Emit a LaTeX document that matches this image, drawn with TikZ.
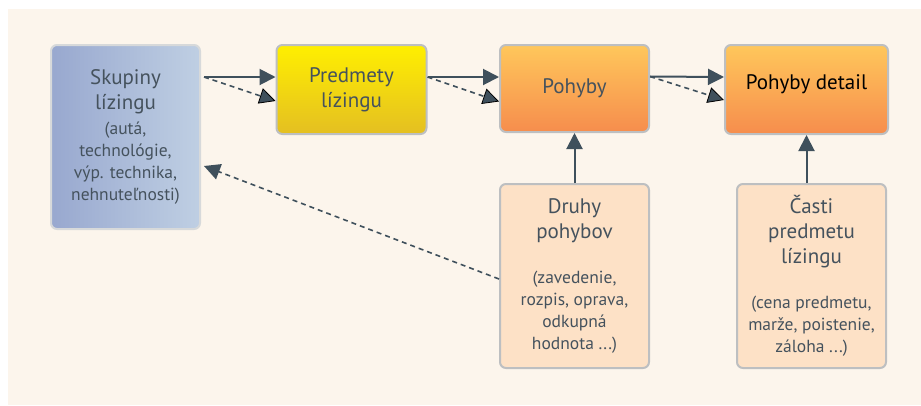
\documentclass[tikz,border=0pt]{standalone}
\usepackage{fontspec}
\setmainfont{PT Sans}
\usepackage{xcolor}
\usepackage{tikz}
\usetikzlibrary{arrows.meta}
\definecolor{bgcream}{HTML}{FCF5EC}
\definecolor{arrowgray}{HTML}{3F505C}
\definecolor{textgray}{HTML}{45525D}
\definecolor{framegray}{HTML}{BDBFC1}
\definecolor{blueleft}{HTML}{98A8CF}
\definecolor{blueright}{HTML}{BFCFE3}
\definecolor{yellowtop}{HTML}{FFEF00}
\definecolor{yellowbot}{HTML}{E4BF22}
\definecolor{orangetop}{HTML}{FFC75B}
\definecolor{orangebot}{HTML}{F68D4D}
\definecolor{peach}{HTML}{FDE1C6}
\newcommand{\smalltext}{\fontsize{17.5}{22}\selectfont}

\begin{document}
\begin{tikzpicture}[x=1pt ,y=-1pt ,semithick ,box/.style ={ rectangle ,rounded corners =6pt ,draw =framegray ,line width =2pt ,text =textgray ,align =center ,inner sep =0pt ,font =\fontsize{21}{25}\selectfont} ,flow/.style ={ -{Triangle[length=16pt,width=16pt]} ,arrowgray ,line width =2pt} ,dflow/.style ={ -{Triangle[length=16pt,width=16pt,color=black,fill=arrowgray,line width=0.8pt]} ,arrowgray ,line width =1.6pt ,dash pattern =on 5pt off 4pt} ,lflow/.style ={ -{Triangle[length=16pt,width=16pt]} ,arrowgray ,line width =1.6pt ,dash pattern =on 5pt off 4pt}]
\useasboundingbox (0,0) rectangle (921,405);
\fill[bgcream] (8,9) rectangle (921,405);
\node[box ,left color =blueleft ,right color =blueright ,draw =framegray!60 ,minimum width =149pt ,minimum height =184pt] (sk) at (125.5,137) {Skupiny\\lízingu\\\smalltext(autá,\\[-3pt]\smalltext technológie,\\[-3pt]\smalltext výp. technika,\\[-3pt]\smalltext nehnuteľnosti)};
\node[box ,top color =yellowtop ,bottom color =yellowbot ,minimum width =150pt ,minimum height =89pt] (pr) at (351.5,89.5) {Predmety\\lízingu};
\node[box ,top color =orangetop ,bottom color =orangebot ,minimum width =149pt ,minimum height =87pt] (ph) at (574.5,88.5) {Pohyby};
\node[box ,top color =orangetop ,bottom color =orangebot ,text =black ,text depth =14pt ,minimum width =163pt ,minimum height =89pt] (dt) at (806.5,89.5) {Pohyby detail};
\node[box ,fill =peach ,minimum width =149pt ,minimum height =184pt] (dr) at (574.5,276) {Druhy\\pohybov\\[20pt]\smalltext(zavedenie,\\[-3pt]\smalltext rozpis, oprava,\\[-3pt]\smalltext odkupná\\[-3pt]\smalltext hodnota ...)};
\node[box ,fill =peach ,minimum width =149pt ,minimum height =184pt] (ca) at (811.5,276) {Časti\\predmetu\\lízingu\\[20pt]\smalltext(cena predmetu,\\[-3pt]\smalltext marže, poistenie,\\[-3pt]\smalltext záloha ...)};
\draw[flow] ([xshift=3pt,yshift=60pt]sk.east) -- ([yshift=12.5pt]pr.west);
\draw[dflow] ([xshift=3pt,yshift=60pt]sk.east) -- ([yshift=-11.5pt]pr.west);
\draw[flow] ([yshift=12.5pt]pr.east) -- ([yshift=11.5pt]ph.west);
\draw[dflow] ([yshift=12.5pt]pr.east) -- ([yshift=-13pt]ph.west);
\draw[flow] ([yshift=12pt]ph.east) -- ([yshift=12.5pt]dt.west);
\draw[dflow] ([yshift=12pt]ph.east) -- ([yshift=-10.5pt]dt.west);
\draw[flow] (dr.north) -- (ph.south);
\draw[flow] (ca.north -| dt.south) -- (dt.south);
\draw[lflow] ([yshift=-3pt]dr.west) -- ([xshift=3pt,yshift=-29pt]sk.east);
\end{tikzpicture}
\end{document}
